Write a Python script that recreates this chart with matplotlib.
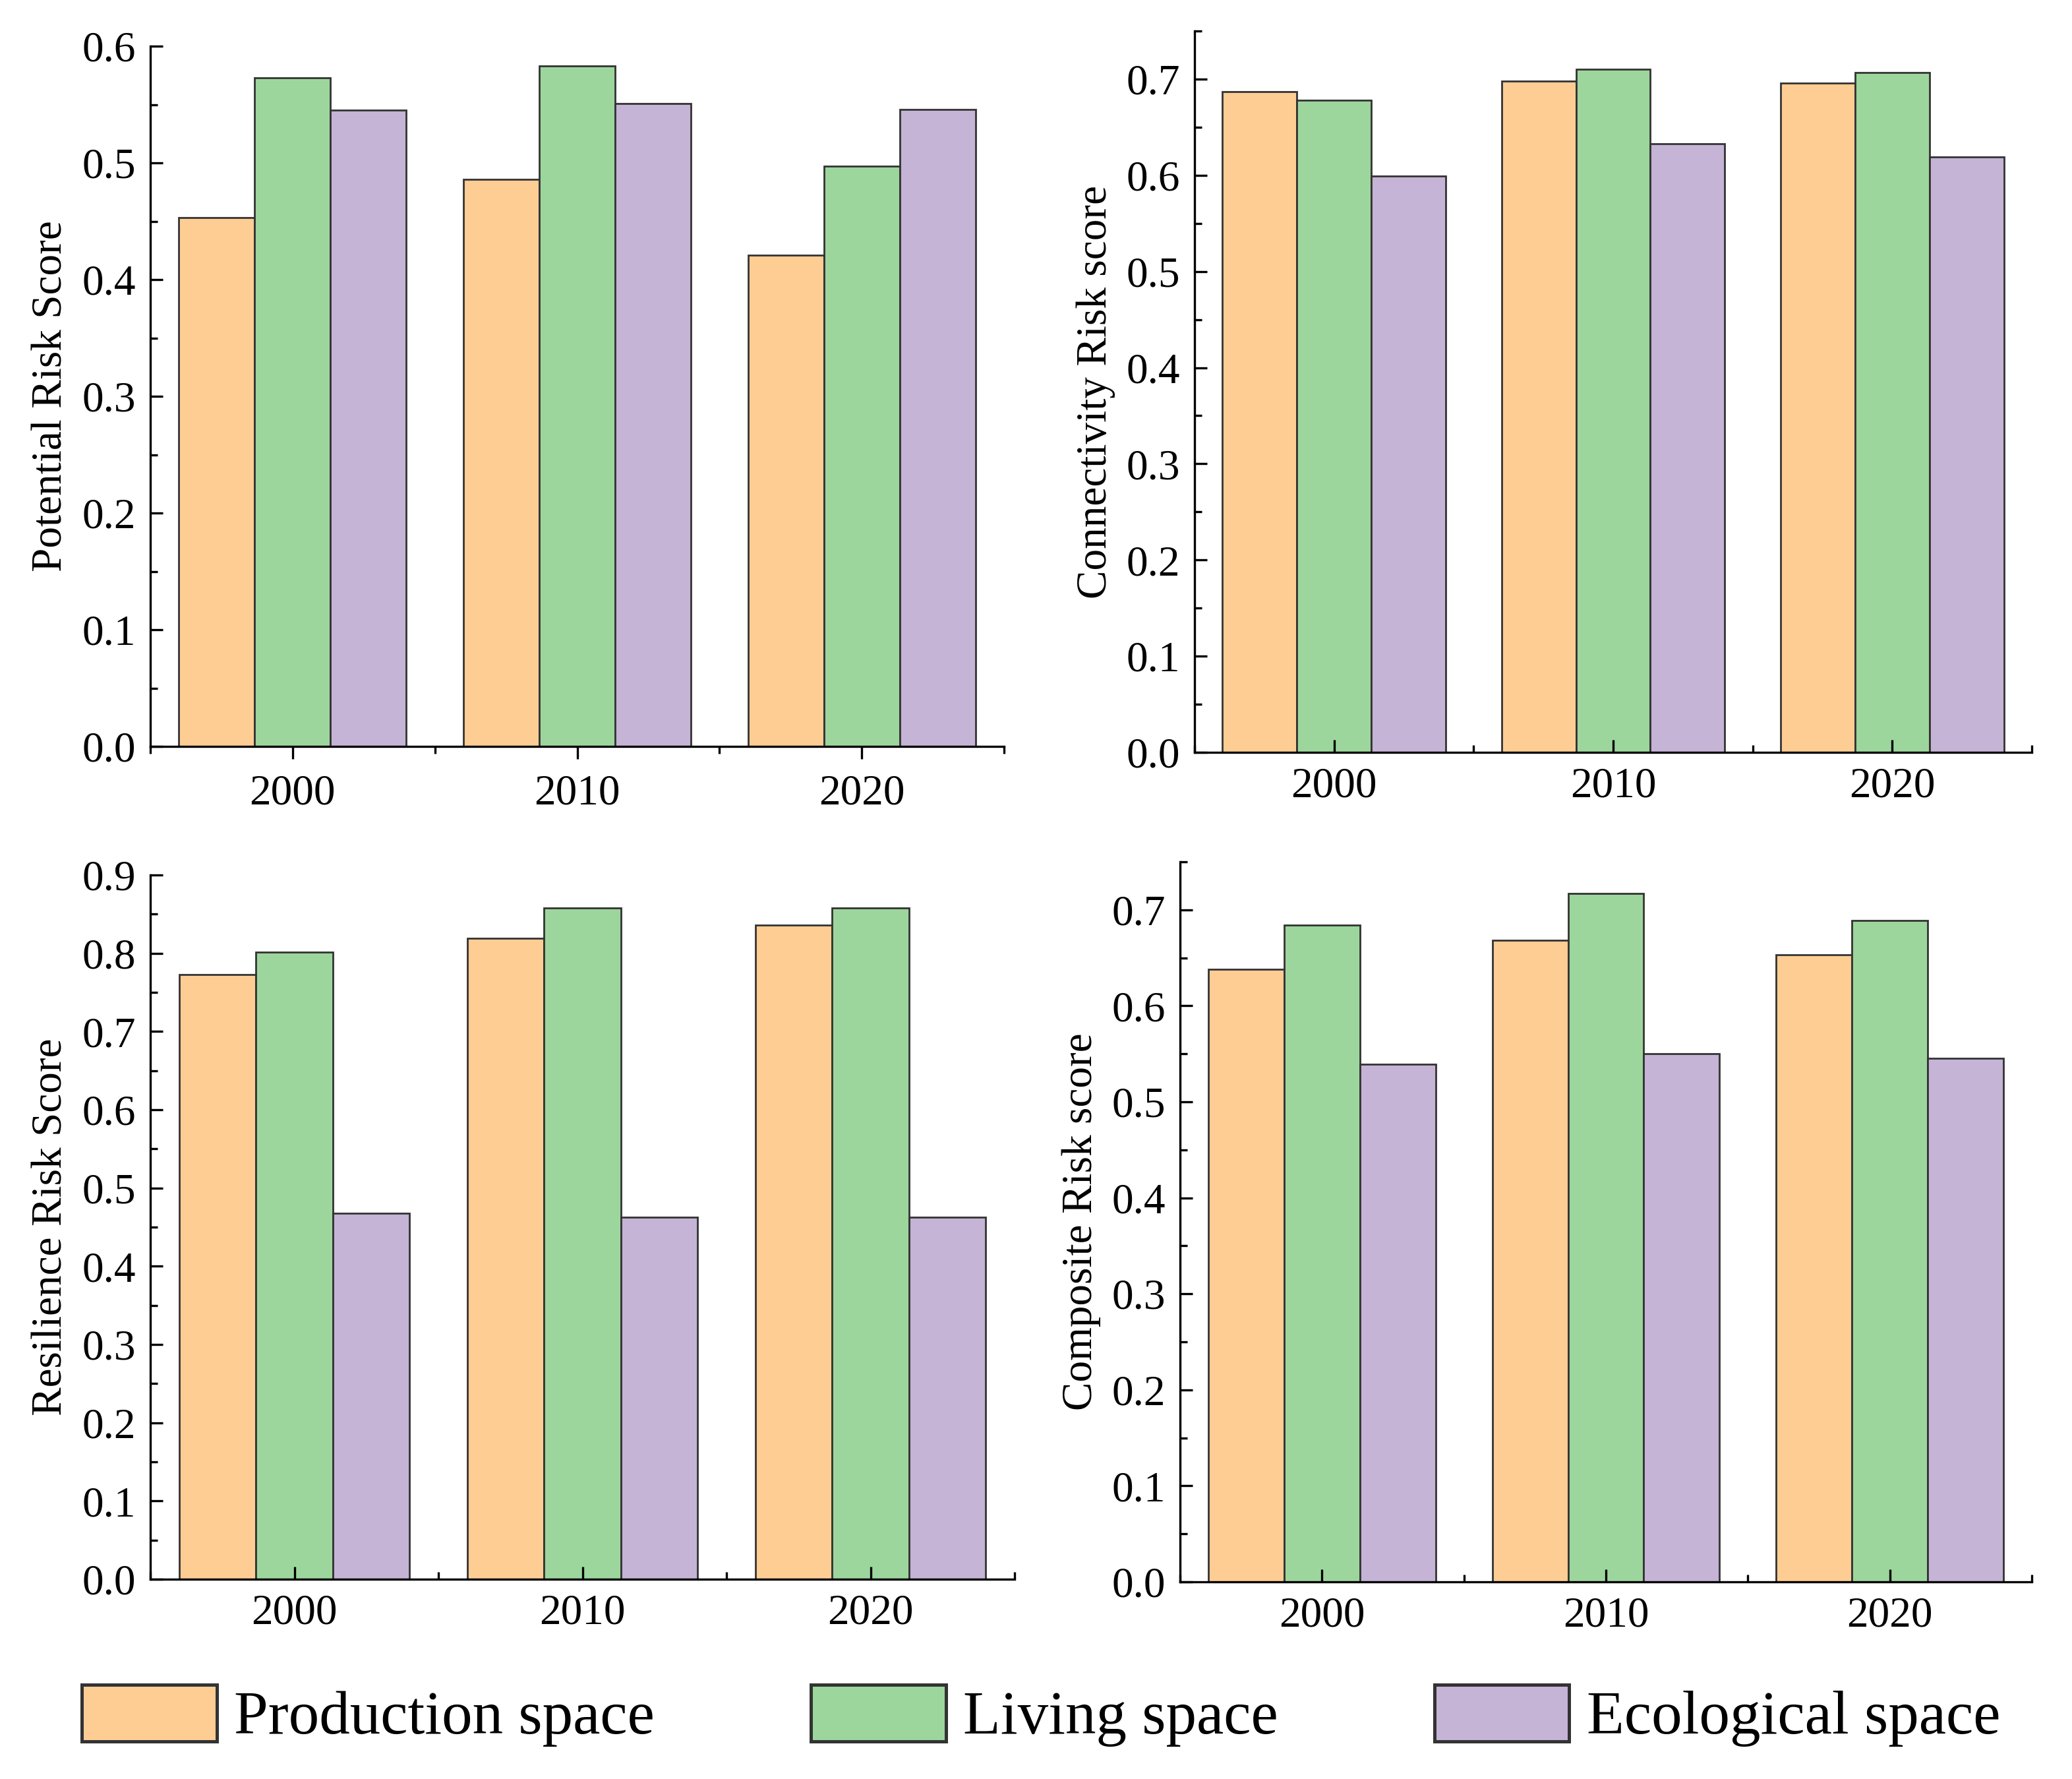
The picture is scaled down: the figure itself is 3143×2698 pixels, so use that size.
import numpy as np
import matplotlib
matplotlib.use('Agg')
import matplotlib.pyplot as plt
from matplotlib.ticker import MultipleLocator, FixedLocator

plt.rcParams['font.family'] = ['Liberation Serif', 'DejaVu Serif']

# 数据
years = ['2000', '2010', '2020']
series_names = ['Production space', 'Living space', 'Ecological space']
colors = ['#FECD94', '#9DD69C', '#C5B4D6']

potential_prod = [0.453, 0.486, 0.421]
potential_living = [0.573, 0.583, 0.497]
potential_eco = [0.545, 0.551, 0.546]

connect_prod = [0.687, 0.698, 0.696]
connect_living = [0.678, 0.710, 0.707]
connect_eco = [0.599, 0.633, 0.619]

resil_prod = [0.773, 0.819, 0.836]
resil_living = [0.801, 0.858, 0.858]
resil_eco = [0.468, 0.463, 0.463]

comp_prod = [0.638, 0.668, 0.653]
comp_living = [0.684, 0.717, 0.689]
comp_eco = [0.539, 0.550, 0.545]

W, H = 3143, 2698
fig = plt.figure(figsize=(W / 200, H / 200), dpi=200)


def px_rect(left, right, top, bottom):
    return [left / W, 1 - bottom / H, (right - left) / W, (bottom - top) / H]


panels = [
    (px_rect(228, 1523, 70, 1132), 'Potential Risk Score',
     [potential_prod, potential_living, potential_eco], 0.6, 'out'),
    (px_rect(1812, 3082, 47, 1141), 'Connectivity Risk score',
     [connect_prod, connect_living, connect_eco], 0.75, 'in'),
    (px_rect(228, 1539, 1327, 2395), 'Resilience Risk Score',
     [resil_prod, resil_living, resil_eco], 0.9, 'in'),
    (px_rect(1790, 3082, 1307, 2399), 'Composite Risk score',
     [comp_prod, comp_living, comp_eco], 0.75, 'in'),
]

x = np.arange(1, len(years) + 1)
bar_w = 0.8 / 3
handles = []

for rect, ylabel, data, ytop, xdir in panels:
    ax = fig.add_axes(rect)
    for i, vals in enumerate(data):
        b = ax.bar(x + (i - 1) * bar_w, vals, bar_w, color=colors[i],
                   edgecolor='#333333', linewidth=1.0, label=series_names[i])
        if len(handles) < 3:
            handles.append(b)
    ax.set_xlim(0.5, 3.5)
    ax.set_ylim(0, ytop)
    ax.set_xticks(x)
    ax.set_xticklabels(years)
    ax.xaxis.set_minor_locator(FixedLocator([0.5, 1.5, 2.5, 3.5]))
    ax.yaxis.set_major_locator(MultipleLocator(0.1))
    ax.yaxis.set_minor_locator(MultipleLocator(0.05))
    ax.yaxis.set_major_formatter(plt.FuncFormatter(lambda v, p: f'{v:.1f}'))
    ax.spines['top'].set_visible(False)
    ax.spines['right'].set_visible(False)
    for s in ['left', 'bottom']:
        ax.spines[s].set_linewidth(1.2)
    ax.tick_params(axis='y', which='major', direction='in', length=7, width=1.2,
                   labelsize=23.5, pad=8)
    ax.tick_params(axis='y', which='minor', direction='in', length=4, width=1.2)
    ax.tick_params(axis='x', which='major', direction=xdir, length=7, width=1.2,
                   labelsize=23.5, pad=8)
    ax.tick_params(axis='x', which='minor', direction=xdir, length=4, width=1.2)
    ax.set_ylabel(ylabel, fontsize=23.5, labelpad=6)

leg = fig.legend(handles, series_names, loc='center left',
                 bbox_to_anchor=(124 / W, 1 - 2602 / H), ncol=3, frameon=False,
                 fontsize=33.5, handlelength=2.2, handleheight=1.05,
                 handletextpad=0.28, columnspacing=2.55, borderpad=0,
                 borderaxespad=0)
for p in leg.get_patches():
    p.set_linewidth(1.8)

fig.savefig('out.png', dpi=200, facecolor='white')
